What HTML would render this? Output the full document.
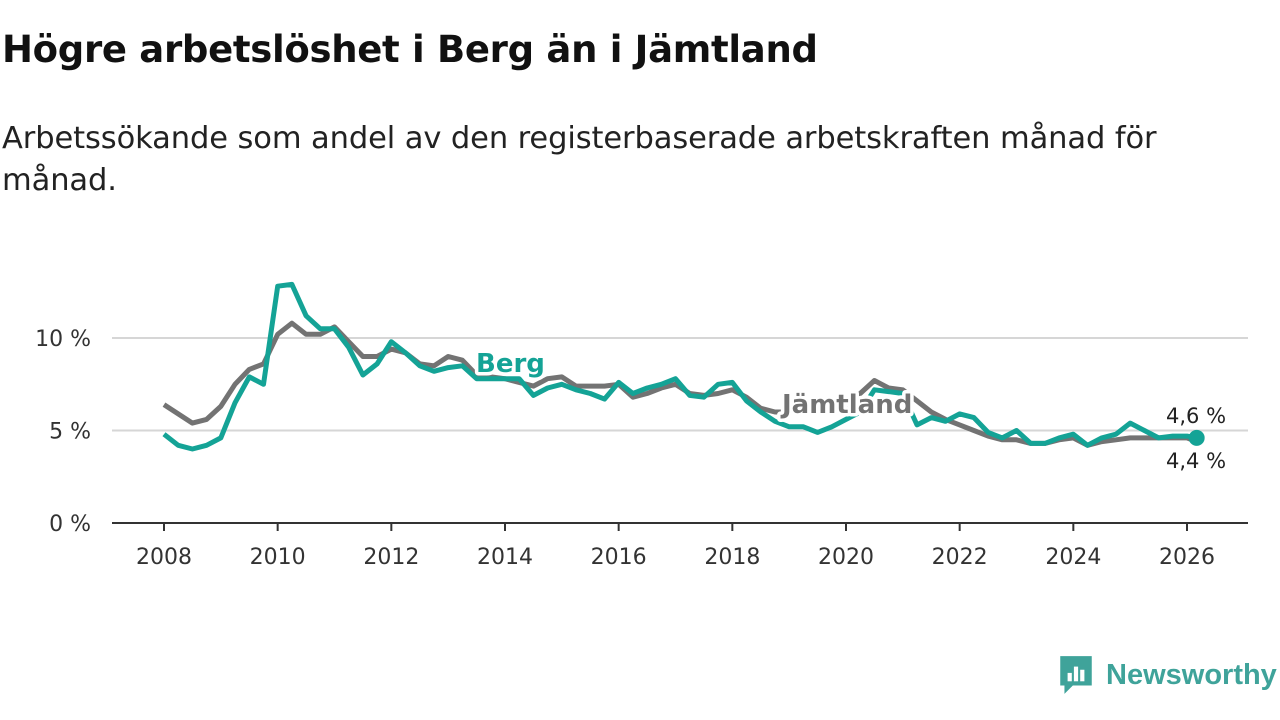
<!DOCTYPE html>
<html><head><meta charset="utf-8">
<style>
body{margin:0;width:1280px;height:720px;background:#fff;font-family:"Liberation Sans","DejaVu Sans",sans-serif;overflow:hidden;position:relative}
h1{position:absolute;left:2px;top:28px;margin:0;font-size:37px;font-weight:bold;color:#111;font-family:"DejaVu Sans","Liberation Sans",sans-serif;letter-spacing:-0.3px}
.sub{position:absolute;left:2px;top:118px;font-size:30.5px;color:#222;line-height:42px;width:1270px;font-family:"DejaVu Sans","Liberation Sans",sans-serif;font-weight:normal;letter-spacing:-0.1px}
svg{position:absolute;left:0;top:0}
</style></head><body>
<h1>Högre arbetslöshet i Berg än i Jämtland</h1>
<div class="sub">Arbetssökande som andel av den registerbaserade arbetskraften månad för<br>månad.</div>
<svg id="chart" width="1280" height="720"></svg>
<div style="position:absolute;left:1058px;top:654px;display:flex;align-items:center">
<svg width="36" height="42" viewBox="0 0 34 40" style="position:static"><path d="M2 2h30v28H14l-8 8v-8H2z" fill="#3fa39a"/><rect x="9" y="18" width="4" height="8" fill="#fff"/><rect x="15" y="12" width="4" height="14" fill="#fff"/><rect x="21" y="15" width="4" height="11" fill="#fff"/></svg>
<span style="font-size:29px;color:#3fa39a;font-weight:bold;margin-left:12px;font-family:'Liberation Sans',sans-serif">Newsworthy</span></div>
<script>
const times=[2008,2008.25,2008.5,2008.75,2009,2009.25,2009.5,2009.75,2010,2010.25,2010.5,2010.75,2011,2011.25,2011.5,2011.75,2012,2012.25,2012.5,2012.75,2013,2013.25,2013.5,2013.75,2014,2014.25,2014.5,2014.75,2015,2015.25,2015.5,2015.75,2016,2016.25,2016.5,2016.75,2017,2017.25,2017.5,2017.75,2018,2018.25,2018.5,2018.75,2019,2019.25,2019.5,2019.75,2020,2020.25,2020.5,2020.75,2021,2021.25,2021.5,2021.75,2022,2022.25,2022.5,2022.75,2023,2023.25,2023.5,2023.75,2024,2024.25,2024.5,2024.75,2025,2025.25,2025.5,2025.75,2026,2026.17];
const berg=[4.8,4.2,4.0,4.2,4.6,6.5,7.9,7.5,12.8,12.9,11.2,10.5,10.5,9.5,8.0,8.6,9.8,9.2,8.5,8.2,8.4,8.5,7.8,7.8,7.8,7.8,6.9,7.3,7.5,7.2,7.0,6.7,7.6,7.0,7.3,7.5,7.8,6.9,6.8,7.5,7.6,6.6,6.0,5.5,5.2,5.2,4.9,5.2,5.6,6.0,7.2,7.1,7.0,5.3,5.7,5.5,5.9,5.7,4.9,4.6,5.0,4.3,4.3,4.6,4.8,4.2,4.6,4.8,5.4,5.0,4.6,4.7,4.7,4.6];
const jamt=[6.4,5.9,5.4,5.6,6.3,7.5,8.3,8.6,10.2,10.8,10.2,10.2,10.6,9.8,9.0,9.0,9.4,9.2,8.6,8.5,9.0,8.8,8.0,7.9,7.8,7.6,7.4,7.8,7.9,7.4,7.4,7.4,7.5,6.8,7.0,7.3,7.5,7.0,6.9,7.0,7.2,6.8,6.2,6.0,6.0,6.0,6.0,6.0,6.0,7.0,7.7,7.3,7.2,6.6,6.0,5.6,5.3,5.0,4.7,4.5,4.5,4.3,4.3,4.5,4.6,4.2,4.4,4.5,4.6,4.6,4.6,4.6,4.6,4.4];
const yTicks=[0,5,10];
const xTicks=[2008,2010,2012,2014,2016,2018,2020,2022,2024,2026];
const NS='http://www.w3.org/2000/svg';
const svg=document.getElementById('chart');
const x=t=>164+(t-2008)*(1187-164)/18;
const y=v=>523-v*18.5;
function mk(tag,attrs,parent){const e=document.createElementNS(NS,tag);for(const k in attrs)e.setAttribute(k,attrs[k]);(parent||svg).appendChild(e);return e;}
yTicks.forEach(v=>{
  if(v>0){const g=mk('line',{x1:112,x2:1248,y1:y(v),y2:y(v),stroke:'#d6d6d6','stroke-width':2});
  
  }
  const t=mk('text',{x:91,y:y(v)+8,'text-anchor':'end','font-size':22,fill:'#333','font-family':'DejaVu Sans, sans-serif'});
  t.textContent=v+' %';
  
  
});
const ax=mk('line',{x1:112,x2:1248,y1:523,y2:523,stroke:'#333','stroke-width':2});


xTicks.forEach(v=>{
  const tk=mk('line',{x1:x(v),x2:x(v),y1:523,y2:531,stroke:'#333','stroke-width':2});
  
  
  const t=mk('text',{x:x(v),y:564,'text-anchor':'middle','font-size':22,fill:'#333','font-family':'DejaVu Sans, sans-serif'});
  t.textContent=v;
  
  
});
function line(vals,col,name){
  const d=vals.map((v,i)=>(i?'L':'M')+x(times[i]).toFixed(1)+','+y(v).toFixed(1)).join('');
  const p=mk('path',{d:d,fill:'none',stroke:col,'stroke-width':5,'stroke-linejoin':'round'});
  
  
}
line(jamt,'#737373','jamtland-line');
line(berg,'#14a396','berg-line');
function lab(txt,xx,yy,col,name,size,weight){
  const t=mk('text',{x:xx,y:yy,fill:col,'font-size':size,'font-weight':weight,'font-family':'DejaVu Sans, sans-serif',stroke:'#fff','stroke-width':weight=='bold'?7:5,'paint-order':'stroke','stroke-linejoin':'round'});
  t.textContent=txt;
  
  
}
lab('Berg',476,372,'#14a396','berg-label',26,'bold');
lab('Jämtland',782,413,'#737373','jamtland-label',26,'bold');
const last=times.length-1;
const dot=mk('circle',{cx:x(times[last]),cy:y(berg[last]),r:8,fill:'#14a396'});


lab('4,6 %',1166,423,'#222','berg-end-value',21,'normal');
lab('4,4 %',1166,468,'#222','jamtland-end-value',21,'normal');
</script>
</body></html>
